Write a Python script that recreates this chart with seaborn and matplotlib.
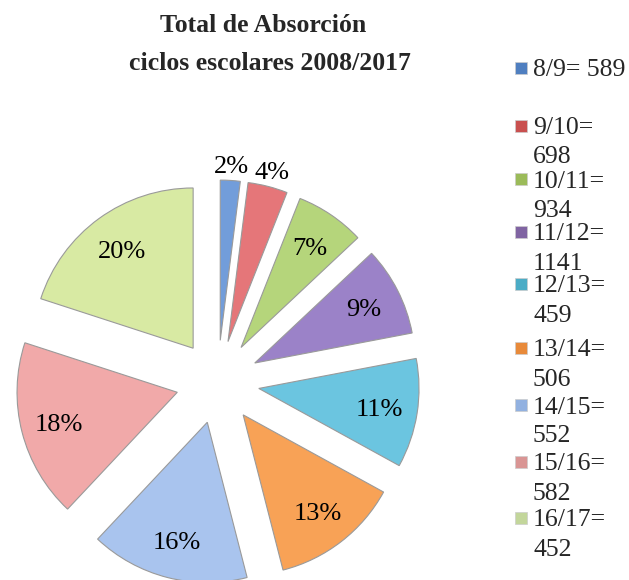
import numpy as np
import seaborn as sns
import matplotlib.pyplot as plt
from matplotlib.patches import Rectangle

# data
cycles = ["8/9", "9/10", "10/11", "11/12", "12/13", "13/14", "14/15", "15/16", "16/17"]
totals = [589, 698, 934, 1141, 459, 506, 552, 582, 452]
shares = [2, 4, 7, 9, 11, 13, 16, 18, 20]

slice_colors = ["#729DDA", "#E57679", "#B5D57B", "#9B82C8", "#6BC5E0",
                "#F8A256", "#A9C4EE", "#F1A9A9", "#D8EAA3"]
legend_colors = ["#4F7FC0", "#C9504F", "#9BBB59", "#8064A2", "#4BACC6",
                 "#E88A3A", "#92B1E0", "#D99594", "#C3D69B"]

sns.set_theme(style="white")
serif = ["Liberation Serif", "DejaVu Serif"]
plt.rcParams["font.family"] = serif

fig = plt.figure(figsize=(6.29, 5.8), dpi=100)
ax = fig.add_axes([0.025, -0.007, 0.642, 0.697])

pal = sns.color_palette(slice_colors)
wedges, texts, autotexts = ax.pie(
    shares, startangle=90, counterclock=False,
    explode=[0.26] * len(shares), colors=pal,
    autopct=lambda p: f"{p:.0f}%", pctdistance=0.76,
    wedgeprops=dict(edgecolor="#9a9a9a", linewidth=0.8),
    textprops=dict(fontsize=19, color="black", family=serif))

# small slices get their labels outside
for w, t, s in zip(wedges, autotexts, shares):
    t.set_va("center_baseline")
    if s < 5:
        ang = np.deg2rad((w.theta1 + w.theta2) / 2)
        r = 0.26 + 1.1
        t.set_position((r * np.cos(ang), r * np.sin(ang)))

ax.set_xlim(-1.26, 1.26)
ax.set_ylim(-1.26, 1.26)
ax.axis("off")

W, H = 629, 580
fig.text(263 / W, 1 - 32 / H, "Total de Absorción", ha="center", va="baseline",
         fontsize=18.5, fontweight="bold", family=serif)
fig.text(270 / W, 1 - 70 / H, "ciclos escolares 2008/2017", ha="center", va="baseline",
         fontsize=18.5, fontweight="bold", family=serif)

# legend drawn by hand, Excel-style wrapping
legend_y = [68, 126, 179, 232, 284, 348, 405, 462, 518]
for i, (c, v) in enumerate(zip(cycles, totals)):
    y = legend_y[i]
    fig.patches.append(Rectangle((515 / W, 1 - (y + 6) / H), 12 / W, 12 / H,
                                 transform=fig.transFigure, facecolor=legend_colors[i],
                                 edgecolor="#cccccc", linewidth=0.5))
    if i == 0:
        fig.text(533 / W, 1 - y / H, f"{c}= {v}", fontsize=18.5, va="center_baseline",
                 ha="left", family=serif)
    else:
        fig.text(533 / W, 1 - y / H, f"{c}=", fontsize=18.5, va="center_baseline",
                 ha="left", family=serif)
        fig.text(533 / W, 1 - (y + 29) / H, f"{v}", fontsize=18.5, va="center_baseline",
                 ha="left", family=serif)

fig.savefig("out.png", dpi=100, facecolor="white")
